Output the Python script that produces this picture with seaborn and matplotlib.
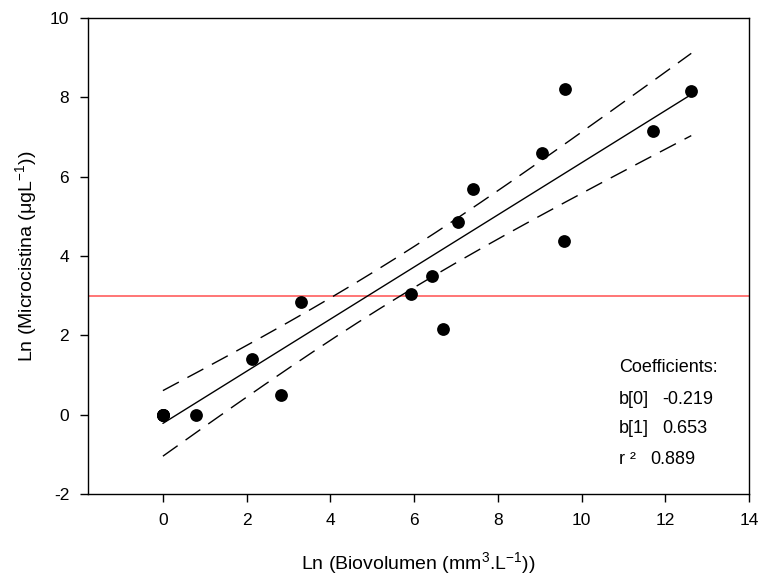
import numpy as np
import pandas as pd
import matplotlib
matplotlib.use("Agg")
from matplotlib import pyplot as plt
import seaborn as sns

# data (4 samples sit on top of each other at 0,0)
ln_biovolumen = [0.0, 0.0, 0.0, 0.0, 0.79, 2.12, 2.81, 3.31, 5.93, 6.43, 6.68, 7.04, 7.40, 9.05, 9.60, 9.59, 11.70, 12.62]
ln_microcistina = [0.0, 0.0, 0.0, 0.0, 0.0, 1.40, 0.50, 2.84, 3.05, 3.50, 2.17, 4.86, 5.69, 6.60, 8.22, 4.37, 7.15, 8.16]
umbral = 3.0
coef_labels = ["b[0]", "b[1]", "r \u00b2"]
coef_values = ["-0.219", "0.653", "0.889"]
t_95 = 2.120  # t(0.975, df=16)

df = pd.DataFrame({"x": ln_biovolumen, "y": ln_microcistina})

sns.set_style("white")
plt.rcParams['font.family'] = ['Liberation Sans', 'DejaVu Sans']
plt.rcParams['mathtext.fontset'] = 'custom'
plt.rcParams['mathtext.rm'] = 'Liberation Sans'
plt.rcParams['mathtext.it'] = 'Liberation Sans'
plt.rcParams['mathtext.default'] = 'regular'
plt.rcParams['axes.unicode_minus'] = False
plt.rcParams['text.color'] = 'black'
plt.rcParams['axes.labelcolor'] = 'black'

# regresion lineal + intervalo de confianza 95%
x = df["x"].values
y = df["y"].values
n = len(x)
b1, b0 = np.polyfit(x, y, 1)
resid = y - (b0 + b1 * x)
s = np.sqrt(np.sum(resid ** 2) / (n - 2))
xs = np.linspace(x.min(), x.max(), 200)
ys = b0 + b1 * xs
se = s * np.sqrt(1 / n + (xs - x.mean()) ** 2 / np.sum((x - x.mean()) ** 2))
fit = pd.DataFrame({"x": xs, "y": ys, "lo": ys - t_95 * se, "hi": ys + t_95 * se})

fig = plt.figure(figsize=(7.63, 5.79), dpi=100)
ax = fig.add_axes([0.1153, 0.1468, 0.8664, 0.8221])

ax.axhline(umbral, color='#ff5050', linewidth=1.1, zorder=1)
sns.lineplot(data=fit, x="x", y="y", color='black', linewidth=1.0, ax=ax, sort=False)
ax.plot(fit["x"], fit["hi"], color='black', linewidth=1.0, dashes=(13, 7))
ax.plot(fit["x"], fit["lo"], color='black', linewidth=1.0, dashes=(13, 7))
sns.scatterplot(data=df, x="x", y="y", color='black', s=85, edgecolor='black', linewidth=0, ax=ax, zorder=5)

ax.set_xlim(-1.79, 14)
ax.set_ylim(-2, 10)
ax.set_xticks([0, 2, 4, 6, 8, 10, 12, 14])
ax.set_yticks([-2, 0, 2, 4, 6, 8, 10])
ax.tick_params(axis='both', direction='out', length=5.5, width=1, labelsize=12.5, colors='black',
               bottom=True, left=True, top=False, right=False, pad=8)
for sp in ax.spines.values():
    sp.set_color('black')
    sp.set_linewidth(1.0)

ax.set_xlabel("Ln (Biovolumen (mm$^{3}$.L$^{-1}$))", fontsize=14, labelpad=16)
ax.set_ylabel("Ln (Microcistina (\u03bcgL$^{-1}$))", fontsize=14, labelpad=8)

ax.text(10.9, 1.18, "Coefficients:", fontsize=13, va='center', ha='left')
ys_txt = [0.39, -0.36, -1.12]
xs_val = [11.93, 11.93, 11.63]
for lab, val, yt, xv in zip(coef_labels, coef_values, ys_txt, xs_val):
    ax.text(10.9, yt, lab, fontsize=13, va='center', ha='left')
    ax.text(xv, yt, val, fontsize=13, va='center', ha='left')

fig.savefig("out.png", dpi=100)
